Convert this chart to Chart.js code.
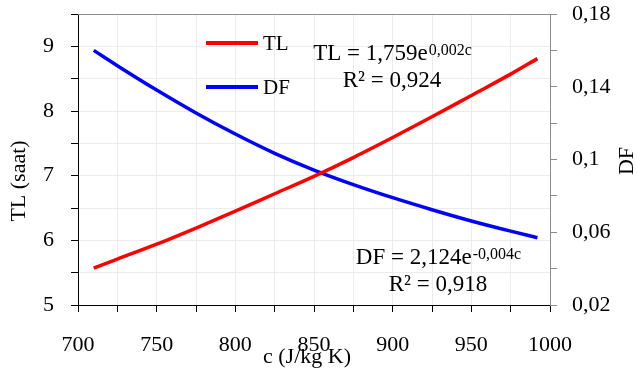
<!DOCTYPE html>
<html>
<head>
<meta charset="utf-8">
<script src="https://cdn.jsdelivr.net/npm/chart.js@4.4.1/dist/chart.umd.min.js"></script>
<style>
  html, body { margin: 0; padding: 0; background: #fff; }
  #wrap { width: 637px; height: 376px; }
</style>
</head>
<body>
<div id="wrap"><canvas id="chart"></canvas></div>
<script>
// veriler
const cValues  = [710, 725, 750, 775, 800, 825, 850, 875, 900, 925, 950, 975, 992];
const tlValues = [5.57, 5.71, 5.94, 6.19, 6.45, 6.72, 6.99, 7.28, 7.59, 7.91, 8.24, 8.57, 8.81];
const dfValues = [0.160, 0.1516, 0.1382, 0.1256, 0.1140, 0.1034, 0.0942, 0.0862, 0.0790, 0.0724, 0.0662, 0.0606, 0.0570];

const xTickLabels  = [700, 750, 800, 850, 900, 950, 1000];
const tlTickLabels = [5, 6, 7, 8, 9];
const dfTickLabels = ['0,02', '0,06', '0,1', '0,14', '0,18'];

const seriesNames = ['TL', 'DF'];
const tlEquation = ['TL = 1,759e', '0,002c', 'R² = 0,924'];
const dfEquation = ['DF = 2,124e', '-0,004c', 'R² = 0,918'];

const FONT = '"Liberation Serif", "DejaVu Serif", serif';
Chart.defaults.font.family = FONT;
Chart.defaults.color = '#000';

function toPoints(xs, ys) {
    return xs.map((x, i) => ({ x: x, y: ys[i] }));
}

// eksen başlıkları, lejant ve denklemler
const overlay = {
    id: 'overlay',
    afterDraw(chart) {
        const ctx = chart.ctx;
        const a = chart.chartArea;
        ctx.save();

        // üst çerçeve
        ctx.strokeStyle = '#8c8c8c';
        ctx.lineWidth = 1;
        ctx.beginPath();
        ctx.moveTo(a.left, a.top + 0.5);
        ctx.lineTo(a.right, a.top + 0.5);
        ctx.stroke();

        // lejant
        const legendRows = [
            { name: seriesNames[0], color: '#ff0000', y: 43 },
            { name: seriesNames[1], color: '#0000ff', y: 87 }
        ];
        ctx.lineWidth = 4;
        ctx.font = '21px ' + FONT;
        ctx.textBaseline = 'middle';
        ctx.textAlign = 'left';
        ctx.fillStyle = '#000';
        legendRows.forEach(r => {
            ctx.strokeStyle = r.color;
            ctx.beginPath();
            ctx.moveTo(206, r.y);
            ctx.lineTo(258, r.y);
            ctx.stroke();
            ctx.fillText(r.name, 263, r.y + 1);
        });

        // denklemler
        function drawEq(eq, cx, baseline) {
            ctx.textBaseline = 'alphabetic';
            ctx.textAlign = 'left';
            ctx.font = '23px ' + FONT;
            const w1 = ctx.measureText(eq[0]).width;
            ctx.font = '16px ' + FONT;
            const w2 = ctx.measureText(eq[1]).width;
            const x0 = cx - (w1 + w2) / 2;
            ctx.font = '23px ' + FONT;
            ctx.fillText(eq[0], x0, baseline);
            ctx.font = '16px ' + FONT;
            ctx.fillText(eq[1], x0 + w1 + 1, baseline - 5);
            ctx.font = '23px ' + FONT;
            ctx.textAlign = 'center';
            ctx.fillText(eq[2], cx, baseline + 27);
        }
        drawEq(tlEquation, 392, 60);
        drawEq(dfEquation, 438, 264);

        // eksen başlıkları
        ctx.font = '22px ' + FONT;
        ctx.textAlign = 'center';
        ctx.textBaseline = 'middle';
        ctx.fillText('c (J/kg K)', 307, 357);

        ctx.save();
        ctx.translate(19, 181);
        ctx.rotate(-Math.PI / 2);
        ctx.fillText('TL (saat)', 0, 0);
        ctx.restore();

        ctx.save();
        ctx.translate(627, 161);
        ctx.rotate(-Math.PI / 2);
        ctx.fillText('DF', 0, 0);
        ctx.restore();

        ctx.restore();
    }
};

function fitY(width) {
    return s => { s.width = width; s.paddingTop = 0; s.paddingBottom = 0; };
}

const chart = new Chart(document.getElementById('chart'), {
    type: 'line',
    data: {
        datasets: [{
            label: seriesNames[0],
            data: toPoints(cValues, tlValues),
            borderColor: '#ff0000',
            borderWidth: 3.5,
            pointRadius: 0,
            cubicInterpolationMode: 'monotone',
            yAxisID: 'y'
        }, {
            label: seriesNames[1],
            data: toPoints(cValues, dfValues),
            borderColor: '#0000ff',
            borderWidth: 3.5,
            pointRadius: 0,
            cubicInterpolationMode: 'monotone',
            yAxisID: 'y1'
        }]
    },
    options: {
        responsive: true,
        maintainAspectRatio: false,
        animation: false,
        devicePixelRatio: 1,
        layout: { padding: { top: 14, left: 0, right: 0, bottom: 0 } },
        plugins: {
            legend: { display: false },
            tooltip: { enabled: false }
        },
        scales: {
            x: {
                type: 'linear',
                min: 700,
                max: 1000,
                afterFit: s => { s.height = 71; s.paddingLeft = 0; s.paddingRight = 0; },
                ticks: {
                    stepSize: 25,
                    autoSkip: false,
                    maxRotation: 0,
                    padding: 20,
                    font: { size: 22 },
                    color: '#000',
                    callback: v => xTickLabels.includes(v) ? String(v) : ''
                },
                grid: { color: '#ececec', tickColor: '#000', tickLength: 7 },
                border: { color: '#000', width: 1 }
            },
            y: {
                position: 'left',
                min: 5,
                max: 9.5,
                afterFit: fitY(78),
                ticks: {
                    stepSize: 0.5,
                    padding: 17,
                    font: { size: 22 },
                    color: '#000',
                    callback: v => tlTickLabels.includes(v) ? String(v) : ''
                },
                grid: { color: '#ececec', tickColor: '#000', tickLength: 7 },
                border: { color: '#000', width: 1 }
            },
            y1: {
                position: 'right',
                min: 0.02,
                max: 0.18,
                afterFit: fitY(87),
                ticks: {
                    stepSize: 0.02,
                    padding: 15,
                    font: { size: 22 },
                    color: '#000',
                    callback: v => {
                        const lbl = String(+v.toFixed(2)).replace('.', ',');
                        return dfTickLabels.includes(lbl) ? lbl : '';
                    }
                },
                grid: { drawOnChartArea: false, tickColor: '#8c8c8c', tickLength: 7 },
                border: { color: '#8c8c8c', width: 1 }
            }
        }
    },
    plugins: [overlay]
});
</script>
</body>
</html>
